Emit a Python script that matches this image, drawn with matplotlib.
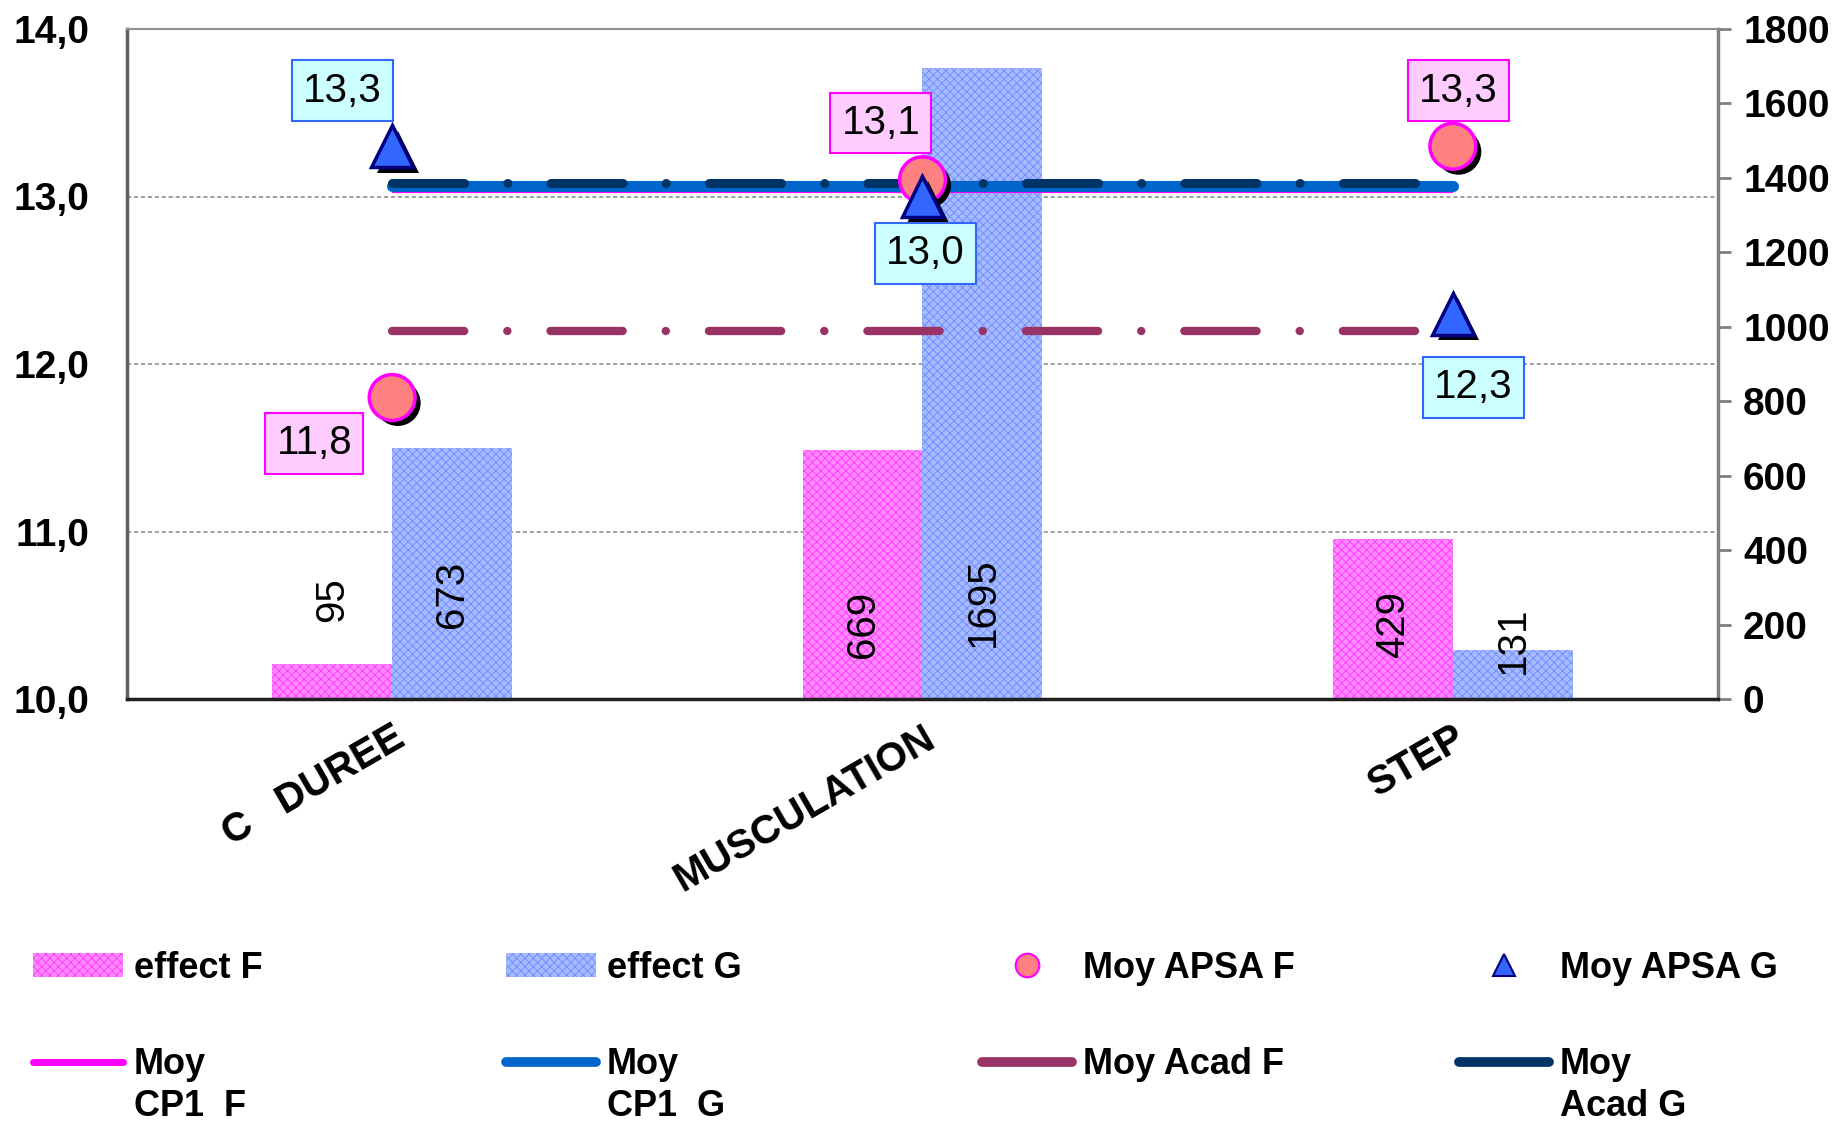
import matplotlib
matplotlib.use('Agg')
import matplotlib.pyplot as plt
import matplotlib.patheffects as pe
from matplotlib.lines import Line2D
from matplotlib.patches import Patch
import numpy as np

# ---------------- data ----------------
categories = ["C   DUREE", "MUSCULATION", "STEP"]
effect_F = [95, 669, 429]
effect_G = [673, 1695, 131]
apsa_F = [11.8, 13.1, 13.3]
apsa_G = [13.3, 13.0, 12.3]
cp1_F = [13.03, 13.03, 13.03]
cp1_G = [13.06, 13.06, 13.06]
acad_F = [12.2, 12.2, 12.2]
acad_G = [13.08, 13.08, 13.08]
left_ticks = [10, 11, 12, 13, 14]
right_ticks = [0, 200, 400, 600, 800, 1000, 1200, 1400, 1600, 1800]
legend_labels = ["effect F", "effect G", "Moy APSA F", "Moy APSA G",
                 "Moy\nCP1  F", "Moy\nCP1  G", "Moy Acad F", "Moy\nAcad G"]

# ---------------- style ----------------
plt.rcParams['font.family'] = ['Liberation Sans', 'DejaVu Sans']
plt.rcParams['lines.scale_dashes'] = False
plt.rcParams['hatch.linewidth'] = 0.7

C_F_BAR, C_F_HATCH = '#FF8CFF', '#FF3DFF'
C_G_BAR, C_G_HATCH = '#A9BBFF', '#7090FF'
C_APSA_F, C_APSA_F_E = '#FF8080', '#FF00FF'
C_APSA_G, C_APSA_G_E = '#3366FF', '#000080'
C_CP1_F, C_CP1_G = '#FF00FF', '#0066CC'
C_ACAD_F, C_ACAD_G = '#993366', '#003366'
DASHDOT = (0, (52, 31, 0.1, 31))

W, H = 1845, 1123
fig = plt.figure(figsize=(W / 100, H / 100), dpi=100)
L, R, T, B = 127, 1718, 29, 699
ax = fig.add_axes([L / W, 1 - B / H, (R - L) / W, (B - T) / H])
x = np.arange(len(categories))
bw = 0.226

ax.set_xlim(-0.5, len(categories) - 0.5)
ax.set_ylim(right_ticks[0], right_ticks[-1])

ax2 = ax.twinx()
ax2.set_ylim(left_ticks[0], left_ticks[-1])

# grid lines at the left-axis ticks (drawn behind the bars)
lo, hi = left_ticks[0], left_ticks[-1]
for g in left_ticks[1:-1]:
    yv = (g - lo) / (hi - lo) * right_ticks[-1]
    ax.axhline(yv, color='#909090', lw=1.2, ls=(0, (3, 2)), zorder=0)

# bars
ax.bar(x - bw / 2, effect_F, bw, color=C_F_BAR, edgecolor=C_F_HATCH,
       hatch='xxxx', lw=0, zorder=2)
ax.bar(x + bw / 2, effect_G, bw, color=C_G_BAR, edgecolor=C_G_HATCH,
       hatch='xxxx', lw=0, zorder=2)

# bar value labels
lblF_y = [266, 199, 199]
lblG_y = [282, 259, 158]
for i in range(len(categories)):
    ax.text(x[i] - bw / 2, lblF_y[i], str(effect_F[i]), rotation=90,
            ha='center', va='center', fontsize=29, zorder=5)
    ax.text(x[i] + bw / 2, lblG_y[i], str(effect_G[i]), rotation=90,
            ha='center', va='center', fontsize=29, zorder=5)

# lines
ax2.plot(x, cp1_F, color=C_CP1_F, lw=3, solid_capstyle='butt', zorder=3)
ax2.plot(x, cp1_G, color=C_CP1_G, lw=8, solid_capstyle='round', zorder=4)
ax2.plot(x, acad_G, color=C_ACAD_G, lw=6.5, ls=DASHDOT,
         dash_capstyle='round', zorder=5)
ax2.plot(x, acad_F, color=C_ACAD_F, lw=6, ls=DASHDOT,
         dash_capstyle='round', zorder=5)

# markers with shadow
shadow = [pe.SimplePatchShadow(offset=(4, -4), shadow_rgbFace='black', alpha=1.0),
          pe.Normal()]
ax2.plot(x, apsa_F, ls='none', marker='o', ms=33, mfc=C_APSA_F, mec=C_APSA_F_E,
         mew=2.5, path_effects=shadow, zorder=6)
ax2.plot(x, apsa_G, ls='none', marker='^', ms=30, mfc=C_APSA_G, mec=C_APSA_G_E,
         mew=2.5, path_effects=shadow, zorder=7)


def fmt(v):
    return f"{v:.1f}".replace('.', ',')


def box_label(xv, yv, dx, dy, fc, ec):
    ax2.annotate(fmt(yv), (xv, yv), xytext=(dx, dy), textcoords='offset points',
                 ha='center', va='center', fontsize=29,
                 bbox=dict(boxstyle='square,pad=0.28', fc=fc, ec=ec, lw=1.5),
                 zorder=10, annotation_clip=False)


offF = [(-56, -33), (-30, 41), (4, 40)]
offG = [(-36, 40), (2, -41), (15, -53)]
for i in range(len(categories)):
    box_label(x[i], apsa_F[i], *offF[i], '#FFCCFF', '#FF00FF')
    box_label(x[i], apsa_G[i], *offG[i], '#CCFFFF', '#3366FF')

# axes styling
ax2.set_yticks(left_ticks)
ax2.set_yticklabels([fmt(t) for t in left_ticks], fontsize=28, fontweight='bold')
ax2.yaxis.tick_left()
ax2.tick_params(axis='y', length=0, pad=27)
ax.yaxis.tick_right()
ax.set_yticks(right_ticks)
ax.set_yticklabels([str(t) for t in right_ticks], fontsize=28, fontweight='bold')
ax.tick_params(axis='y', direction='out', length=9, width=2, color='#808080', pad=9)
ax.set_xticks(x)
ax.set_xticklabels(categories, rotation=30, ha='right', va='top',
                   rotation_mode='anchor', fontsize=29, fontweight='bold')
ax.tick_params(axis='x', length=0, pad=14)

for s in ax2.spines.values():
    s.set_visible(False)
ax.spines['left'].set_color('#606060'); ax.spines['left'].set_linewidth(2.5)
ax.spines['top'].set_color('#909090'); ax.spines['top'].set_linewidth(1.5)
ax.spines['right'].set_color('#808080'); ax.spines['right'].set_linewidth(2.5)
ax.spines['bottom'].set_color('#202020'); ax.spines['bottom'].set_linewidth(2.5)

# legend (manual grid: 2 rows x 4 columns)
handles = [
    Patch(fc=C_F_BAR, ec=C_F_HATCH, hatch='xxxx', lw=0),
    Patch(fc=C_G_BAR, ec=C_G_HATCH, hatch='xxxx', lw=0),
    Line2D([], [], ls='none', marker='o', ms=17, mfc=C_APSA_F, mec=C_APSA_F_E, mew=1.5),
    Line2D([], [], ls='none', marker='^', ms=16, mfc=C_APSA_G, mec=C_APSA_G_E, mew=1.5),
    Line2D([], [], color=C_CP1_F, lw=5, solid_capstyle='round'),
    Line2D([], [], color=C_CP1_G, lw=7, solid_capstyle='round'),
    Line2D([], [], color=C_ACAD_F, lw=7, solid_capstyle='round'),
    Line2D([], [], color=C_ACAD_G, lw=7, solid_capstyle='round'),
]
col_x = [33, 506, 982, 1459]
row_y = [968, 1065]
line_gap = 42
fs = 26
fs_px = fs * 100 / 72
hl, htp = 2.5, 0.3
for k, (h, lab) in enumerate(zip(handles, legend_labels)):
    r, c = divmod(k, 4)
    parts = lab.split('\n')
    fig.legend(handles=[h], labels=[parts[0]], loc='center left',
               bbox_to_anchor=(col_x[c] / W, 1 - row_y[r] / H),
               frameon=False, prop={'weight': 'bold', 'size': fs},
               handlelength=hl, handletextpad=htp, handleheight=0.65,
               borderpad=0, borderaxespad=0)
    for j, extra in enumerate(parts[1:], start=1):
        fig.text((col_x[c] + (hl + htp) * fs_px) / W,
                 1 - (row_y[r] + j * line_gap) / H, extra,
                 ha='left', va='center', fontsize=fs, fontweight='bold')

fig.savefig('out.png', dpi=100)
